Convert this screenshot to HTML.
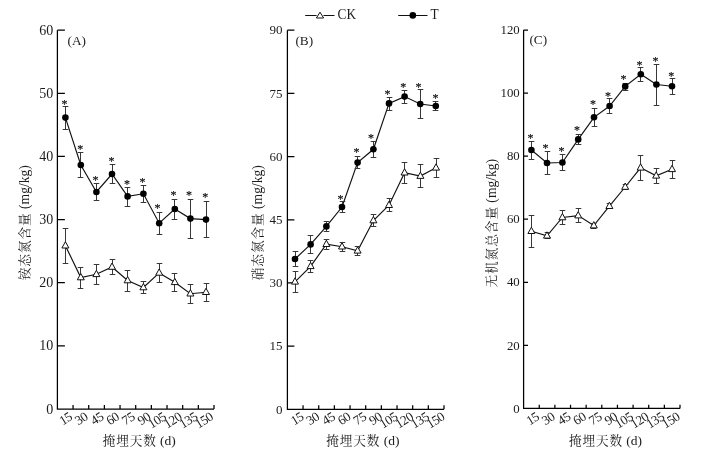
<!DOCTYPE html>
<html><head><meta charset="utf-8"><title>Figure</title>
<style>html,body{margin:0;padding:0;background:#fff}svg{display:block}text{font-family:"Liberation Serif", "Noto Serif CJK SC", serif;fill:#1c1c1c}</style></head><body>
<svg width="710" height="455" viewBox="0 0 710 455">
<rect width="710" height="455" fill="#fff"/>
<path d="M305.2 15.5H334.5" stroke="#111" stroke-width="1" fill="none"/>
<path d="M320 12.2L323.6 18L316.4 18Z" fill="#fff" stroke="#fff" stroke-width="2.4"/>
<path d="M320 12.2L323.6 18L316.4 18Z" fill="#fff" stroke="#111" stroke-width="1"/>
<text transform="translate(337.6 19.2) scale(0.95 1)" font-size="14">CK</text>
<path d="M398.2 15.5H427.5" stroke="#111" stroke-width="1" fill="none"/>
<circle cx="412.8" cy="15.4" r="3.3" fill="#000"/>
<text transform="translate(430.6 19.2) scale(0.95 1)" font-size="14">T</text>
<g>
<path d="M57.40 30.20V409.00H214.00M57.40 345.87h7.50M57.40 282.73h7.50M57.40 219.60h7.50M57.40 156.47h7.50M57.40 93.33h7.50M57.40 30.20h7.50M73.06 409.00v-4.00M88.72 409.00v-4.00M104.38 409.00v-4.00M120.04 409.00v-4.00M135.70 409.00v-4.00M151.36 409.00v-4.00M167.02 409.00v-4.00M182.68 409.00v-4.00M198.34 409.00v-4.00M214.00 409.00v-4.00" fill="none" stroke="#000" stroke-width="1.25"/>
<text x="53.20" y="413.62" font-size="14" text-anchor="end">0</text>
<text x="53.20" y="350.49" font-size="14" text-anchor="end">10</text>
<text x="53.20" y="287.35" font-size="14" text-anchor="end">20</text>
<text x="53.20" y="224.22" font-size="14" text-anchor="end">30</text>
<text x="53.20" y="161.09" font-size="14" text-anchor="end">40</text>
<text x="53.20" y="97.95" font-size="14" text-anchor="end">50</text>
<text x="53.20" y="34.82" font-size="14" text-anchor="end">60</text>
<text font-size="13.2" letter-spacing="-0.5" text-anchor="end" transform="translate(73.03 419.00) rotate(-32)">15</text>
<text font-size="13.2" letter-spacing="-0.5" text-anchor="end" transform="translate(88.69 419.00) rotate(-32)">30</text>
<text font-size="13.2" letter-spacing="-0.5" text-anchor="end" transform="translate(104.35 419.00) rotate(-32)">45</text>
<text font-size="13.2" letter-spacing="-0.5" text-anchor="end" transform="translate(120.01 419.00) rotate(-32)">60</text>
<text font-size="13.2" letter-spacing="-0.5" text-anchor="end" transform="translate(135.67 419.00) rotate(-32)">75</text>
<text font-size="13.2" letter-spacing="-0.5" text-anchor="end" transform="translate(151.33 419.00) rotate(-32)">90</text>
<text font-size="13.2" letter-spacing="-0.5" text-anchor="end" transform="translate(166.99 419.00) rotate(-32)">105</text>
<text font-size="13.2" letter-spacing="-0.5" text-anchor="end" transform="translate(182.65 419.00) rotate(-32)">120</text>
<text font-size="13.2" letter-spacing="-0.5" text-anchor="end" transform="translate(198.31 419.00) rotate(-32)">135</text>
<text font-size="13.2" letter-spacing="-0.5" text-anchor="end" transform="translate(213.97 419.00) rotate(-32)">150</text>
<text x="67.60" y="44.60" font-size="13.3">(A)</text>
<text x="139.30" y="444.6" font-size="13.5" text-anchor="middle"><tspan font-size="12.6" letter-spacing="0.9">掩埋天数</tspan> (d)</text>
<text font-size="13.6" text-anchor="middle" transform="translate(28.50 222.70) rotate(-90)"><tspan font-size="12.7" letter-spacing="0.9">铵态氮含量</tspan> (mg/kg)</text>
<polyline points="65.4,245.7 80.8,277.5 96.4,274.3 112.0,267.0 127.6,280.5 143.4,287.5 159.2,272.9 174.8,282.3 190.4,293.7 206.0,292.2" fill="none" stroke="#111" stroke-width="1.15"/>
<path d="M65.50 228.50V263.50M62.70 228.50H68.30M62.70 263.50H68.30" fill="none" stroke="#383838" stroke-width="1"/>
<path d="M80.50 267.50V288.50M77.70 267.50H83.30M77.70 288.50H83.30" fill="none" stroke="#383838" stroke-width="1"/>
<path d="M96.50 264.50V284.50M93.70 264.50H99.30M93.70 284.50H99.30" fill="none" stroke="#383838" stroke-width="1"/>
<path d="M112.50 259.50V274.50M109.70 259.50H115.30M109.70 274.50H115.30" fill="none" stroke="#383838" stroke-width="1"/>
<path d="M127.50 270.50V291.50M124.70 270.50H130.30M124.70 291.50H130.30" fill="none" stroke="#383838" stroke-width="1"/>
<path d="M143.50 281.50V293.50M140.70 281.50H146.30M140.70 293.50H146.30" fill="none" stroke="#383838" stroke-width="1"/>
<path d="M159.50 263.50V282.50M156.70 263.50H162.30M156.70 282.50H162.30" fill="none" stroke="#383838" stroke-width="1"/>
<path d="M174.50 273.50V291.50M171.70 273.50H177.30M171.70 291.50H177.30" fill="none" stroke="#383838" stroke-width="1"/>
<path d="M190.50 284.50V303.50M187.70 284.50H193.30M187.70 303.50H193.30" fill="none" stroke="#383838" stroke-width="1"/>
<path d="M206.50 283.50V301.50M203.70 283.50H209.30M203.70 301.50H209.30" fill="none" stroke="#383838" stroke-width="1"/>
<path d="M65.40 241.70L68.90 248.00L61.90 248.00Z" fill="#fff" stroke="#111" stroke-width="1"/>
<path d="M80.80 273.50L84.30 279.80L77.30 279.80Z" fill="#fff" stroke="#111" stroke-width="1"/>
<path d="M96.40 270.30L99.90 276.60L92.90 276.60Z" fill="#fff" stroke="#111" stroke-width="1"/>
<path d="M112.00 263.00L115.50 269.30L108.50 269.30Z" fill="#fff" stroke="#111" stroke-width="1"/>
<path d="M127.60 276.50L131.10 282.80L124.10 282.80Z" fill="#fff" stroke="#111" stroke-width="1"/>
<path d="M143.40 283.50L146.90 289.80L139.90 289.80Z" fill="#fff" stroke="#111" stroke-width="1"/>
<path d="M159.20 268.90L162.70 275.20L155.70 275.20Z" fill="#fff" stroke="#111" stroke-width="1"/>
<path d="M174.80 278.30L178.30 284.60L171.30 284.60Z" fill="#fff" stroke="#111" stroke-width="1"/>
<path d="M190.40 289.70L193.90 296.00L186.90 296.00Z" fill="#fff" stroke="#111" stroke-width="1"/>
<path d="M206.00 288.20L209.50 294.50L202.50 294.50Z" fill="#fff" stroke="#111" stroke-width="1"/>
<polyline points="65.4,117.6 80.8,165.0 96.4,192.0 112.0,174.0 127.6,196.4 143.4,193.8 159.2,223.2 174.8,209.0 190.4,218.6 206.0,219.6" fill="none" stroke="#111" stroke-width="1.15"/>
<path d="M65.50 106.50V129.50M62.70 106.50H68.30M62.70 129.50H68.30" fill="none" stroke="#383838" stroke-width="1"/>
<path d="M80.50 152.50V177.50M77.70 152.50H83.30M77.70 177.50H83.30" fill="none" stroke="#383838" stroke-width="1"/>
<path d="M96.50 183.50V200.50M93.70 183.50H99.30M93.70 200.50H99.30" fill="none" stroke="#383838" stroke-width="1"/>
<path d="M112.50 164.50V183.50M109.70 164.50H115.30M109.70 183.50H115.30" fill="none" stroke="#383838" stroke-width="1"/>
<path d="M127.50 187.50V206.50M124.70 187.50H130.30M124.70 206.50H130.30" fill="none" stroke="#383838" stroke-width="1"/>
<path d="M143.50 185.50V202.50M140.70 185.50H146.30M140.70 202.50H146.30" fill="none" stroke="#383838" stroke-width="1"/>
<path d="M159.50 212.50V234.50M156.70 212.50H162.30M156.70 234.50H162.30" fill="none" stroke="#383838" stroke-width="1"/>
<path d="M174.50 199.50V219.50M171.70 199.50H177.30M171.70 219.50H177.30" fill="none" stroke="#383838" stroke-width="1"/>
<path d="M190.50 199.50V238.50M187.70 199.50H193.30M187.70 238.50H193.30" fill="none" stroke="#383838" stroke-width="1"/>
<path d="M206.50 201.50V237.50M203.70 201.50H209.30M203.70 237.50H209.30" fill="none" stroke="#383838" stroke-width="1"/>
<circle cx="65.40" cy="117.60" r="3.3" fill="#000"/>
<circle cx="80.80" cy="165.00" r="3.3" fill="#000"/>
<circle cx="96.40" cy="192.00" r="3.3" fill="#000"/>
<circle cx="112.00" cy="174.00" r="3.3" fill="#000"/>
<circle cx="127.60" cy="196.40" r="3.3" fill="#000"/>
<circle cx="143.40" cy="193.80" r="3.3" fill="#000"/>
<circle cx="159.20" cy="223.20" r="3.3" fill="#000"/>
<circle cx="174.80" cy="209.00" r="3.3" fill="#000"/>
<circle cx="190.40" cy="218.60" r="3.3" fill="#000"/>
<circle cx="206.00" cy="219.60" r="3.3" fill="#000"/>
<text x="64.40" y="108.10" font-size="12" text-anchor="middle" fill="#000" stroke="#000" stroke-width="0.2">*</text>
<text x="80.20" y="153.30" font-size="12" text-anchor="middle" fill="#000" stroke="#000" stroke-width="0.2">*</text>
<text x="95.60" y="183.80" font-size="12" text-anchor="middle" fill="#000" stroke="#000" stroke-width="0.2">*</text>
<text x="111.40" y="165.30" font-size="12" text-anchor="middle" fill="#000" stroke="#000" stroke-width="0.2">*</text>
<text x="127.00" y="187.80" font-size="12" text-anchor="middle" fill="#000" stroke="#000" stroke-width="0.2">*</text>
<text x="142.60" y="186.30" font-size="12" text-anchor="middle" fill="#000" stroke="#000" stroke-width="0.2">*</text>
<text x="157.60" y="212.30" font-size="12" text-anchor="middle" fill="#000" stroke="#000" stroke-width="0.2">*</text>
<text x="173.40" y="199.40" font-size="12" text-anchor="middle" fill="#000" stroke="#000" stroke-width="0.2">*</text>
<text x="189.00" y="199.20" font-size="12" text-anchor="middle" fill="#000" stroke="#000" stroke-width="0.2">*</text>
<text x="205.20" y="200.80" font-size="12" text-anchor="middle" fill="#000" stroke="#000" stroke-width="0.2">*</text>
</g>
<g>
<path d="M287.40 30.20V409.30H444.00M287.40 346.12h7.00M287.40 282.93h7.00M287.40 219.75h7.00M287.40 156.57h7.00M287.40 93.38h7.00M287.40 30.20h7.00M303.06 409.30v-4.00M318.72 409.30v-4.00M334.38 409.30v-4.00M350.04 409.30v-4.00M365.70 409.30v-4.00M381.36 409.30v-4.00M397.02 409.30v-4.00M412.68 409.30v-4.00M428.34 409.30v-4.00M444.00 409.30v-4.00" fill="none" stroke="#000" stroke-width="1.25"/>
<text x="282.60" y="413.59" font-size="13" text-anchor="end">0</text>
<text x="282.60" y="350.41" font-size="13" text-anchor="end">15</text>
<text x="282.60" y="287.22" font-size="13" text-anchor="end">30</text>
<text x="282.60" y="224.04" font-size="13" text-anchor="end">45</text>
<text x="282.60" y="160.86" font-size="13" text-anchor="end">60</text>
<text x="282.60" y="97.67" font-size="13" text-anchor="end">75</text>
<text x="282.60" y="34.49" font-size="13" text-anchor="end">90</text>
<text font-size="13.2" letter-spacing="-0.5" text-anchor="end" transform="translate(304.53 419.00) rotate(-32)">15</text>
<text font-size="13.2" letter-spacing="-0.5" text-anchor="end" transform="translate(320.19 419.00) rotate(-32)">30</text>
<text font-size="13.2" letter-spacing="-0.5" text-anchor="end" transform="translate(335.85 419.00) rotate(-32)">45</text>
<text font-size="13.2" letter-spacing="-0.5" text-anchor="end" transform="translate(351.51 419.00) rotate(-32)">60</text>
<text font-size="13.2" letter-spacing="-0.5" text-anchor="end" transform="translate(367.17 419.00) rotate(-32)">75</text>
<text font-size="13.2" letter-spacing="-0.5" text-anchor="end" transform="translate(382.83 419.00) rotate(-32)">90</text>
<text font-size="13.2" letter-spacing="-0.5" text-anchor="end" transform="translate(398.49 419.00) rotate(-32)">105</text>
<text font-size="13.2" letter-spacing="-0.5" text-anchor="end" transform="translate(414.15 419.00) rotate(-32)">120</text>
<text font-size="13.2" letter-spacing="-0.5" text-anchor="end" transform="translate(429.81 419.00) rotate(-32)">135</text>
<text font-size="13.2" letter-spacing="-0.5" text-anchor="end" transform="translate(445.47 419.00) rotate(-32)">150</text>
<text x="295.40" y="44.90" font-size="13.3">(B)</text>
<text x="362.90" y="444.6" font-size="13.5" text-anchor="middle"><tspan font-size="12.6" letter-spacing="0.9">掩埋天数</tspan> (d)</text>
<text font-size="13.6" text-anchor="middle" transform="translate(262.00 222.70) rotate(-90)"><tspan font-size="12.7" letter-spacing="0.9">硝态氮含量</tspan> (mg/kg)</text>
<polyline points="295.0,281.8 310.6,266.3 326.4,244.2 342.0,246.7 357.6,250.8 373.4,220.5 389.0,205.2 404.6,172.7 420.4,176.1 436.0,167.8" fill="none" stroke="#111" stroke-width="1.15"/>
<path d="M295.50 271.50V292.50M292.70 271.50H298.30M292.70 292.50H298.30" fill="none" stroke="#383838" stroke-width="1"/>
<path d="M310.50 260.50V272.50M307.70 260.50H313.30M307.70 272.50H313.30" fill="none" stroke="#383838" stroke-width="1"/>
<path d="M326.50 239.50V249.50M323.70 239.50H329.30M323.70 249.50H329.30" fill="none" stroke="#383838" stroke-width="1"/>
<path d="M342.50 242.50V251.50M339.70 242.50H345.30M339.70 251.50H345.30" fill="none" stroke="#383838" stroke-width="1"/>
<path d="M357.50 246.50V255.50M354.70 246.50H360.30M354.70 255.50H360.30" fill="none" stroke="#383838" stroke-width="1"/>
<path d="M373.50 214.50V226.50M370.70 214.50H376.30M370.70 226.50H376.30" fill="none" stroke="#383838" stroke-width="1"/>
<path d="M389.50 198.50V211.50M386.70 198.50H392.30M386.70 211.50H392.30" fill="none" stroke="#383838" stroke-width="1"/>
<path d="M404.50 162.50V183.50M401.70 162.50H407.30M401.70 183.50H407.30" fill="none" stroke="#383838" stroke-width="1"/>
<path d="M420.50 164.50V187.50M417.70 164.50H423.30M417.70 187.50H423.30" fill="none" stroke="#383838" stroke-width="1"/>
<path d="M436.50 158.50V177.50M433.70 158.50H439.30M433.70 177.50H439.30" fill="none" stroke="#383838" stroke-width="1"/>
<path d="M295.00 277.80L298.50 284.10L291.50 284.10Z" fill="#fff" stroke="#111" stroke-width="1"/>
<path d="M310.60 262.30L314.10 268.60L307.10 268.60Z" fill="#fff" stroke="#111" stroke-width="1"/>
<path d="M326.40 240.20L329.90 246.50L322.90 246.50Z" fill="#fff" stroke="#111" stroke-width="1"/>
<path d="M342.00 242.70L345.50 249.00L338.50 249.00Z" fill="#fff" stroke="#111" stroke-width="1"/>
<path d="M357.60 246.80L361.10 253.10L354.10 253.10Z" fill="#fff" stroke="#111" stroke-width="1"/>
<path d="M373.40 216.50L376.90 222.80L369.90 222.80Z" fill="#fff" stroke="#111" stroke-width="1"/>
<path d="M389.00 201.20L392.50 207.50L385.50 207.50Z" fill="#fff" stroke="#111" stroke-width="1"/>
<path d="M404.60 168.70L408.10 175.00L401.10 175.00Z" fill="#fff" stroke="#111" stroke-width="1"/>
<path d="M420.40 172.10L423.90 178.40L416.90 178.40Z" fill="#fff" stroke="#111" stroke-width="1"/>
<path d="M436.00 163.80L439.50 170.10L432.50 170.10Z" fill="#fff" stroke="#111" stroke-width="1"/>
<polyline points="295.0,259.0 310.6,244.4 326.4,226.4 342.0,207.0 357.6,162.6 373.4,149.3 389.0,103.4 404.6,96.6 420.2,104.0 435.8,106.0" fill="none" stroke="#111" stroke-width="1.15"/>
<path d="M295.50 251.50V266.50M292.70 251.50H298.30M292.70 266.50H298.30" fill="none" stroke="#383838" stroke-width="1"/>
<path d="M310.50 235.50V253.50M307.70 235.50H313.30M307.70 253.50H313.30" fill="none" stroke="#383838" stroke-width="1"/>
<path d="M326.50 221.50V231.50M323.70 221.50H329.30M323.70 231.50H329.30" fill="none" stroke="#383838" stroke-width="1"/>
<path d="M342.50 201.50V212.50M339.70 201.50H345.30M339.70 212.50H345.30" fill="none" stroke="#383838" stroke-width="1"/>
<path d="M357.50 156.50V168.50M354.70 156.50H360.30M354.70 168.50H360.30" fill="none" stroke="#383838" stroke-width="1"/>
<path d="M373.50 141.50V157.50M370.70 141.50H376.30M370.70 157.50H376.30" fill="none" stroke="#383838" stroke-width="1"/>
<path d="M389.50 97.50V110.50M386.70 97.50H392.30M386.70 110.50H392.30" fill="none" stroke="#383838" stroke-width="1"/>
<path d="M404.50 90.50V103.50M401.70 90.50H407.30M401.70 103.50H407.30" fill="none" stroke="#383838" stroke-width="1"/>
<path d="M420.50 89.50V118.50M417.70 89.50H423.30M417.70 118.50H423.30" fill="none" stroke="#383838" stroke-width="1"/>
<path d="M435.50 101.50V110.50M432.70 101.50H438.30M432.70 110.50H438.30" fill="none" stroke="#383838" stroke-width="1"/>
<circle cx="295.00" cy="259.00" r="3.3" fill="#000"/>
<circle cx="310.60" cy="244.40" r="3.3" fill="#000"/>
<circle cx="326.40" cy="226.40" r="3.3" fill="#000"/>
<circle cx="342.00" cy="207.00" r="3.3" fill="#000"/>
<circle cx="357.60" cy="162.60" r="3.3" fill="#000"/>
<circle cx="373.40" cy="149.30" r="3.3" fill="#000"/>
<circle cx="389.00" cy="103.40" r="3.3" fill="#000"/>
<circle cx="404.60" cy="96.60" r="3.3" fill="#000"/>
<circle cx="420.20" cy="104.00" r="3.3" fill="#000"/>
<circle cx="435.80" cy="106.00" r="3.3" fill="#000"/>
<text x="340.60" y="202.80" font-size="12" text-anchor="middle" fill="#000" stroke="#000" stroke-width="0.2">*</text>
<text x="356.40" y="156.20" font-size="12" text-anchor="middle" fill="#000" stroke="#000" stroke-width="0.2">*</text>
<text x="371.00" y="141.80" font-size="12" text-anchor="middle" fill="#000" stroke="#000" stroke-width="0.2">*</text>
<text x="387.40" y="97.80" font-size="12" text-anchor="middle" fill="#000" stroke="#000" stroke-width="0.2">*</text>
<text x="403.20" y="90.80" font-size="12" text-anchor="middle" fill="#000" stroke="#000" stroke-width="0.2">*</text>
<text x="418.60" y="90.80" font-size="12" text-anchor="middle" fill="#000" stroke="#000" stroke-width="0.2">*</text>
<text x="435.40" y="102.40" font-size="12" text-anchor="middle" fill="#000" stroke="#000" stroke-width="0.2">*</text>
</g>
<g>
<path d="M523.60 30.00V408.40H680.00M523.60 345.33h4.40M523.60 282.27h4.40M523.60 219.20h4.40M523.60 156.13h4.40M523.60 93.07h4.40M523.60 30.00h4.40M539.24 408.40v-3.60M554.88 408.40v-3.60M570.52 408.40v-3.60M586.16 408.40v-3.60M601.80 408.40v-3.60M617.44 408.40v-3.60M633.08 408.40v-3.60M648.72 408.40v-3.60M664.36 408.40v-3.60M680.00 408.40v-3.60" fill="none" stroke="#000" stroke-width="1.25"/>
<text x="519.70" y="412.62" font-size="12.8" text-anchor="end">0</text>
<text x="519.70" y="349.56" font-size="12.8" text-anchor="end">20</text>
<text x="519.70" y="286.49" font-size="12.8" text-anchor="end">40</text>
<text x="519.70" y="223.42" font-size="12.8" text-anchor="end">60</text>
<text x="519.70" y="160.36" font-size="12.8" text-anchor="end">80</text>
<text x="519.70" y="97.29" font-size="12.8" text-anchor="end">100</text>
<text x="519.70" y="34.22" font-size="12.8" text-anchor="end">120</text>
<text font-size="13.2" letter-spacing="-0.5" text-anchor="end" transform="translate(540.02 419.00) rotate(-32)">15</text>
<text font-size="13.2" letter-spacing="-0.5" text-anchor="end" transform="translate(555.66 419.00) rotate(-32)">30</text>
<text font-size="13.2" letter-spacing="-0.5" text-anchor="end" transform="translate(571.30 419.00) rotate(-32)">45</text>
<text font-size="13.2" letter-spacing="-0.5" text-anchor="end" transform="translate(586.94 419.00) rotate(-32)">60</text>
<text font-size="13.2" letter-spacing="-0.5" text-anchor="end" transform="translate(602.58 419.00) rotate(-32)">75</text>
<text font-size="13.2" letter-spacing="-0.5" text-anchor="end" transform="translate(618.22 419.00) rotate(-32)">90</text>
<text font-size="13.2" letter-spacing="-0.5" text-anchor="end" transform="translate(633.86 419.00) rotate(-32)">105</text>
<text font-size="13.2" letter-spacing="-0.5" text-anchor="end" transform="translate(649.50 419.00) rotate(-32)">120</text>
<text font-size="13.2" letter-spacing="-0.5" text-anchor="end" transform="translate(665.14 419.00) rotate(-32)">135</text>
<text font-size="13.2" letter-spacing="-0.5" text-anchor="end" transform="translate(680.78 419.00) rotate(-32)">150</text>
<text x="529.40" y="44.30" font-size="13.3">(C)</text>
<text x="605.50" y="444.6" font-size="13.5" text-anchor="middle"><tspan font-size="12.6" letter-spacing="0.9">掩埋天数</tspan> (d)</text>
<text font-size="13.6" text-anchor="middle" transform="translate(496.00 223.20) rotate(-90)"><tspan font-size="12.7" letter-spacing="0.9">无机氮总含量</tspan> (mg/kg)</text>
<polyline points="531.4,231.2 547.0,235.8 562.4,217.5 578.2,215.6 593.8,225.6 609.4,206.2 625.2,187.0 640.6,167.8 656.2,175.8 672.0,169.3" fill="none" stroke="#111" stroke-width="1.15"/>
<path d="M531.50 215.50V247.50M528.70 215.50H534.30M528.70 247.50H534.30" fill="none" stroke="#383838" stroke-width="1"/>
<path d="M547.50 232.50V238.50M544.70 232.50H550.30M544.70 238.50H550.30" fill="none" stroke="#383838" stroke-width="1"/>
<path d="M562.50 210.50V224.50M559.70 210.50H565.30M559.70 224.50H565.30" fill="none" stroke="#383838" stroke-width="1"/>
<path d="M578.50 208.50V222.50M575.70 208.50H581.30M575.70 222.50H581.30" fill="none" stroke="#383838" stroke-width="1"/>
<path d="M593.50 223.50V228.50M590.70 223.50H596.30M590.70 228.50H596.30" fill="none" stroke="#383838" stroke-width="1"/>
<path d="M609.50 203.50V208.50M606.70 203.50H612.30M606.70 208.50H612.30" fill="none" stroke="#383838" stroke-width="1"/>
<path d="M625.50 184.50V189.50M622.70 184.50H628.30M622.70 189.50H628.30" fill="none" stroke="#383838" stroke-width="1"/>
<path d="M640.50 155.50V180.50M637.70 155.50H643.30M637.70 180.50H643.30" fill="none" stroke="#383838" stroke-width="1"/>
<path d="M656.50 168.50V183.50M653.70 168.50H659.30M653.70 183.50H659.30" fill="none" stroke="#383838" stroke-width="1"/>
<path d="M672.50 160.50V178.50M669.70 160.50H675.30M669.70 178.50H675.30" fill="none" stroke="#383838" stroke-width="1"/>
<path d="M531.40 227.20L534.90 233.50L527.90 233.50Z" fill="#fff" stroke="#111" stroke-width="1"/>
<path d="M547.00 231.80L550.50 238.10L543.50 238.10Z" fill="#fff" stroke="#111" stroke-width="1"/>
<path d="M562.40 213.50L565.90 219.80L558.90 219.80Z" fill="#fff" stroke="#111" stroke-width="1"/>
<path d="M578.20 211.60L581.70 217.90L574.70 217.90Z" fill="#fff" stroke="#111" stroke-width="1"/>
<path d="M593.80 221.60L597.30 227.90L590.30 227.90Z" fill="#fff" stroke="#111" stroke-width="1"/>
<path d="M609.40 202.20L612.90 208.50L605.90 208.50Z" fill="#fff" stroke="#111" stroke-width="1"/>
<path d="M625.20 183.00L628.70 189.30L621.70 189.30Z" fill="#fff" stroke="#111" stroke-width="1"/>
<path d="M640.60 163.80L644.10 170.10L637.10 170.10Z" fill="#fff" stroke="#111" stroke-width="1"/>
<path d="M656.20 171.80L659.70 178.10L652.70 178.10Z" fill="#fff" stroke="#111" stroke-width="1"/>
<path d="M672.00 165.30L675.50 171.60L668.50 171.60Z" fill="#fff" stroke="#111" stroke-width="1"/>
<polyline points="531.4,150.0 547.0,163.0 562.4,162.5 578.2,139.4 594.0,117.3 609.6,106.0 625.2,86.4 640.8,74.2 656.4,84.5 672.0,86.3" fill="none" stroke="#111" stroke-width="1.15"/>
<path d="M531.50 141.50V159.50M528.70 141.50H534.30M528.70 159.50H534.30" fill="none" stroke="#383838" stroke-width="1"/>
<path d="M547.50 151.50V174.50M544.70 151.50H550.30M544.70 174.50H550.30" fill="none" stroke="#383838" stroke-width="1"/>
<path d="M562.50 154.50V170.50M559.70 154.50H565.30M559.70 170.50H565.30" fill="none" stroke="#383838" stroke-width="1"/>
<path d="M578.50 134.50V144.50M575.70 134.50H581.30M575.70 144.50H581.30" fill="none" stroke="#383838" stroke-width="1"/>
<path d="M594.50 108.50V126.50M591.70 108.50H597.30M591.70 126.50H597.30" fill="none" stroke="#383838" stroke-width="1"/>
<path d="M609.50 98.50V113.50M606.70 98.50H612.30M606.70 113.50H612.30" fill="none" stroke="#383838" stroke-width="1"/>
<path d="M625.50 83.50V90.50M622.70 83.50H628.30M622.70 90.50H628.30" fill="none" stroke="#383838" stroke-width="1"/>
<path d="M640.50 67.50V81.50M637.70 67.50H643.30M637.70 81.50H643.30" fill="none" stroke="#383838" stroke-width="1"/>
<path d="M656.50 64.50V105.50M653.70 64.50H659.30M653.70 105.50H659.30" fill="none" stroke="#383838" stroke-width="1"/>
<path d="M672.50 78.50V94.50M669.70 78.50H675.30M669.70 94.50H675.30" fill="none" stroke="#383838" stroke-width="1"/>
<circle cx="531.40" cy="150.00" r="3.3" fill="#000"/>
<circle cx="547.00" cy="163.00" r="3.3" fill="#000"/>
<circle cx="562.40" cy="162.50" r="3.3" fill="#000"/>
<circle cx="578.20" cy="139.40" r="3.3" fill="#000"/>
<circle cx="594.00" cy="117.30" r="3.3" fill="#000"/>
<circle cx="609.60" cy="106.00" r="3.3" fill="#000"/>
<circle cx="625.20" cy="86.40" r="3.3" fill="#000"/>
<circle cx="640.80" cy="74.20" r="3.3" fill="#000"/>
<circle cx="656.40" cy="84.50" r="3.3" fill="#000"/>
<circle cx="672.00" cy="86.30" r="3.3" fill="#000"/>
<text x="530.40" y="142.40" font-size="12" text-anchor="middle" fill="#000" stroke="#000" stroke-width="0.2">*</text>
<text x="545.60" y="151.80" font-size="12" text-anchor="middle" fill="#000" stroke="#000" stroke-width="0.2">*</text>
<text x="561.40" y="155.20" font-size="12" text-anchor="middle" fill="#000" stroke="#000" stroke-width="0.2">*</text>
<text x="577.00" y="134.40" font-size="12" text-anchor="middle" fill="#000" stroke="#000" stroke-width="0.2">*</text>
<text x="593.00" y="108.40" font-size="12" text-anchor="middle" fill="#000" stroke="#000" stroke-width="0.2">*</text>
<text x="608.00" y="99.80" font-size="12" text-anchor="middle" fill="#000" stroke="#000" stroke-width="0.2">*</text>
<text x="623.60" y="82.80" font-size="12" text-anchor="middle" fill="#000" stroke="#000" stroke-width="0.2">*</text>
<text x="639.60" y="68.80" font-size="12" text-anchor="middle" fill="#000" stroke="#000" stroke-width="0.2">*</text>
<text x="655.60" y="65.40" font-size="12" text-anchor="middle" fill="#000" stroke="#000" stroke-width="0.2">*</text>
<text x="671.20" y="80.20" font-size="12" text-anchor="middle" fill="#000" stroke="#000" stroke-width="0.2">*</text>
</g>
</svg></body></html>
